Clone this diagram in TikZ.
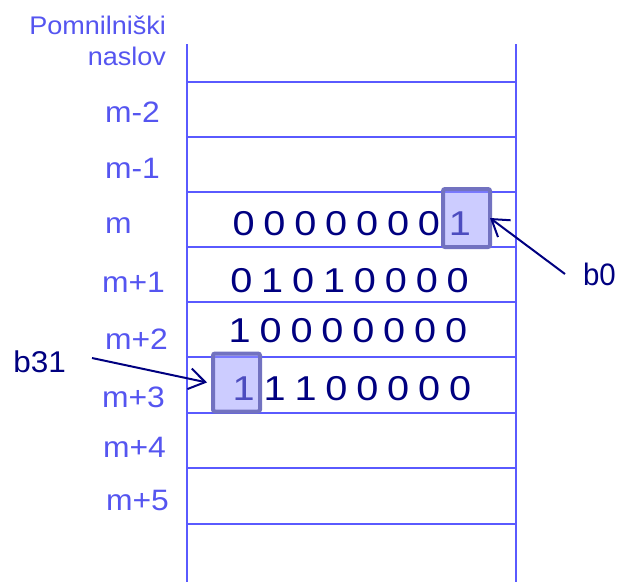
\documentclass[tikz,border=0pt]{standalone}
\usepackage{fontspec}
\setmainfont{Liberation Sans}
\usepackage{graphicx}
\usetikzlibrary{arrows.meta}
\definecolor{gridc}{RGB}{90,90,255}
\definecolor{labc}{RGB}{85,85,240}
\definecolor{navyc}{RGB}{0,0,128}
\definecolor{boxc}{RGB}{114,114,192}
\definecolor{boxf}{RGB}{153,153,255}
\newcommand\hstr[2]{\scalebox{#1}[1]{#2}}
\newcommand\digrow[1]{\hstr{1.15}{\fontsize{34.5}{35}\selectfont\spaceskip=7.7pt\relax #1}}
\newcommand\labtxt[1]{\hstr{1.08}{\fontsize{29.5}{30}\selectfont #1}}
\begin{document}
\begin{tikzpicture}[x=1pt,y=-1pt,
  lab/.style={anchor=base west, inner sep=0pt, outer sep=0pt, text=labc},
  hdr/.style={anchor=base east, inner sep=0pt, outer sep=0pt, text=labc},
  bits/.style={anchor=base west, inner sep=0pt, outer sep=0pt, text=navyc},
  bitbox/.style={draw=boxc, line width=4pt, fill=boxf, fill opacity=0.5, draw opacity=1,
    rounded corners=2pt, minimum width=47pt, minimum height=58pt, inner sep=0pt, outer sep=0pt},
  ptr/.style={draw=navyc, line width=2pt, -{Straight Barb[length=16pt,width=21pt,line width=2pt]}},
  gridline/.style={draw=gridc, line width=2pt}]
\useasboundingbox (0,0) rectangle (621,582);
% memory frame
\draw[gridline] (187,44) -- (187,582);
\draw[gridline] (516,44) -- (516,582);
\foreach \yy in {82,137,192,247,302,357,413,468,524}
  \draw[gridline] (187,\yy) -- (516,\yy);
% header
\node[hdr] (h1) at (166,34) {\hstr{1.06}{\fontsize{25.5}{26}\selectfont Pomnilniški}};
\node[hdr] (h2) at (166,65) {\hstr{1.06}{\fontsize{25.5}{26}\selectfont naslov}};
% address labels
\node[lab] (am2) at (105,122) {\labtxt{m-2}};
\node[lab] (am1) at (105,178) {\labtxt{m-1}};
\node[lab] (a0)  at (105,233) {\labtxt{m}};
\node[lab] (ap1) at (102,292) {\labtxt{m+1}};
\node[lab] (ap2) at (105,349) {\labtxt{m+2}};
\node[lab] (ap3) at (102,407) {\labtxt{m+3}};
\node[lab] (ap4) at (103,457) {\labtxt{m+4}};
\node[lab] (ap5) at (106,510) {\labtxt{m+5}};
% bit rows
\node[bits] (r0) at (232.5,235) {\digrow{0 0 0 0 0 0 0 1}};
\node[bits] (r1) at (230.3,292) {\digrow{0 1 0 1 0 0 0 0}};
\node[bits] (r2) at (228.7,342) {\digrow{1 0 0 0 0 0 0 0}};
\node[bits] (r3) at (232.7,400) {\digrow{1 1 1 0 0 0 0 0}};
% highlighted bits
\node[bitbox] (b0box) at (466.5,218) {};
\node[bitbox] (b31box) at (236.5,382.5) {};
% pointer labels
\node[bits] (lb0) at (583,285) {\hstr{0.95}{\fontsize{31}{31}\selectfont b0}};
\node[bits] (lb31) at (13.3,372) {\hstr{1.05}{\fontsize{30}{30}\selectfont b31}};
\coordinate (b0tail) at (565,274);
\coordinate (b31tail) at (92,358);
\draw[ptr] (b0tail) -- (b0box.east);
\draw[ptr] (b31tail) -- ([xshift=-6pt]b31box.west);
\end{tikzpicture}
\end{document}
